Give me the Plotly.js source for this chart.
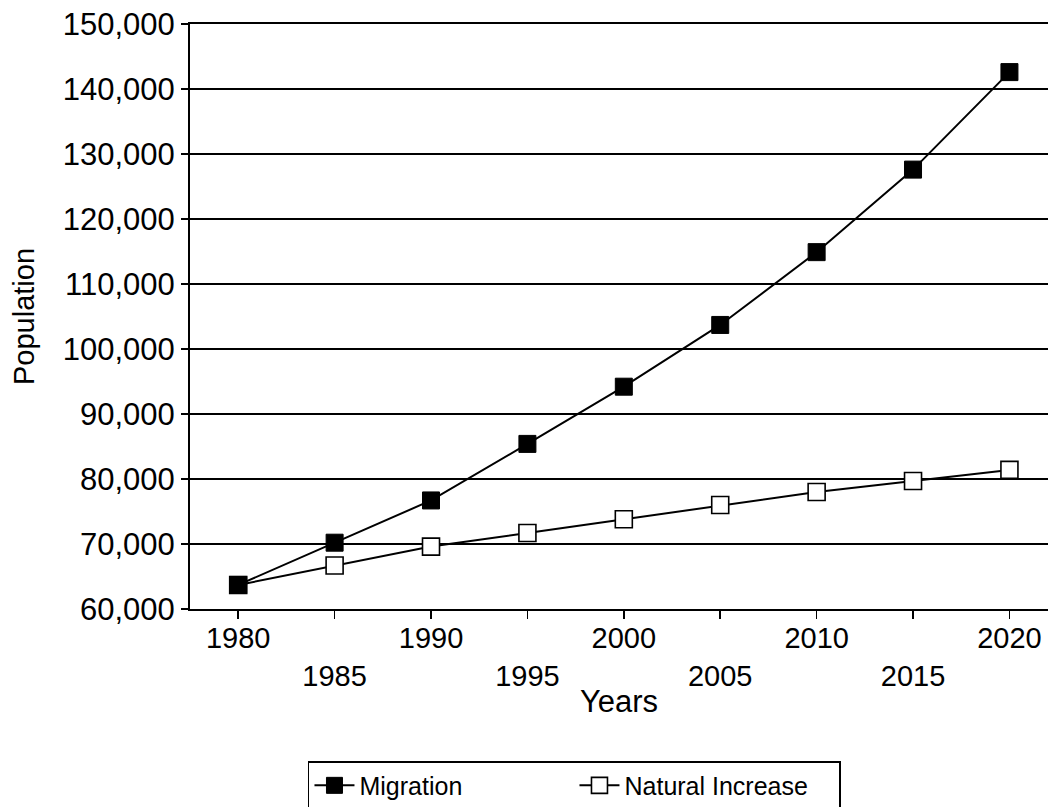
<!DOCTYPE html>
<html>
<head>
<meta charset="utf-8">
<script src="https://cdn.plot.ly/plotly-3.0.1.min.js"></script>
<style>html,body{margin:0;padding:0;background:#fff;}#chart{width:1050px;height:807px;}</style>
</head>
<body>
<div id="chart"></div>
<script>
const years = [1980, 1985, 1990, 1995, 2000, 2005, 2010, 2015, 2020];
const migration = [63700, 70200, 76700, 85400, 94200, 103700, 114900, 127600, 142600];
const naturalIncrease = [63700, 66700, 69600, 71700, 73800, 76000, 78000, 79700, 81400];
const tickYears = [1980, 1985, 1990, 1995, 2000, 2005, 2010, 2015, 2020];
const tickLabels = ['1980', '<br>1985', '1990', '<br>1995', '2000', '<br>2005', '2010', '<br>2015', '2020'];
const yTicks = [60000, 70000, 80000, 90000, 100000, 110000, 120000, 130000, 140000, 150000];

const font = 'Liberation Sans, Arial, Helvetica, sans-serif';

const traces = [
  {
    x: years, y: naturalIncrease, name: 'Natural Increase', type: 'scatter', mode: 'lines+markers',
    line: {color: '#000', width: 2},
    marker: {symbol: 'square', size: 17, color: '#fff', line: {color: '#000', width: 1.6}}
  },
  {
    x: years, y: migration, name: 'Migration', type: 'scatter', mode: 'lines+markers',
    line: {color: '#000', width: 2},
    marker: {symbol: 'square', size: 17, color: '#000', line: {color: '#000', width: 1}}
  }
];

const layout = {
  width: 1050, height: 807,
  margin: {l: 190, r: 2, t: 24, b: 198, autoexpand: false},
  paper_bgcolor: '#fff', plot_bgcolor: '#fff',
  font: {family: font, color: '#000', size: 28},
  showlegend: true,
  legend: {
    orientation: 'h', traceorder: 'reversed',
    x: 0.1375, xanchor: 'left', y: -0.26, yanchor: 'top',
    bordercolor: '#000', borderwidth: 1.5, bgcolor: '#fff',
    font: {family: font, size: 25, color: '#000'},
    entrywidth: 210, entrywidthmode: 'pixels', itemwidth: 40
  },
  xaxis: {
    range: [1977.5, 2022],
    tickmode: 'array', tickvals: tickYears, ticktext: tickLabels,
    ticks: 'outside', ticklen: 8, tickwidth: 1.5, tickcolor: '#000',
    ticklabelstandoff: -6,
    showline: true, linecolor: '#000', linewidth: 2, mirror: true,
    showgrid: false, zeroline: false,
    tickfont: {family: font, size: 29, color: '#000'},
    title: {text: 'Years', font: {family: font, size: 31, color: '#000'}, standoff: 0}
  },
  yaxis: {
    range: [60000, 150000],
    tickmode: 'array', tickvals: yTicks, tickformat: ',',
    ticks: 'outside', ticklen: 7, tickwidth: 1.5, tickcolor: '#000',
    showline: true, linecolor: '#000', linewidth: 2,
    showgrid: true, gridcolor: '#000', gridwidth: 2, zeroline: false,
    tickfont: {family: font, size: 31, color: '#000'},
    title: {text: 'Population', font: {family: font, size: 29, color: '#000'}, standoff: 20}
  }
};

Plotly.newPlot('chart', traces, layout, {displayModeBar: false, staticPlot: true});
</script>
</body>
</html>
